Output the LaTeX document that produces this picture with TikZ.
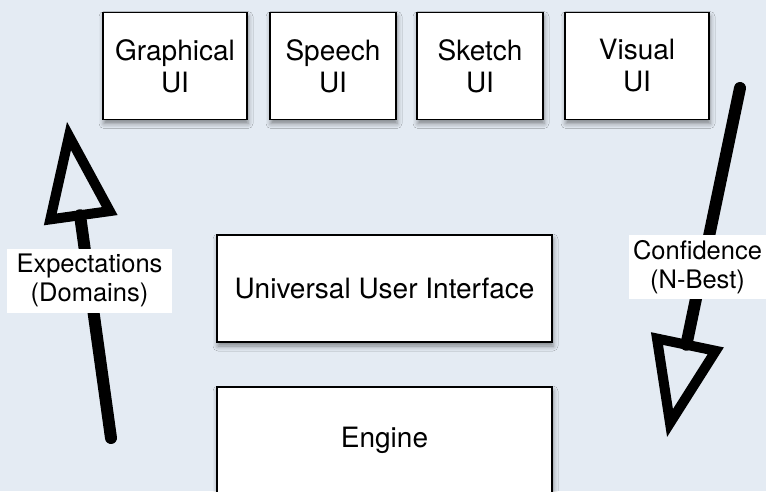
\documentclass[tikz,border=0pt]{standalone}
\usepackage{fontspec}
\setmainfont{TeX Gyre Heros}
\usetikzlibrary{calc,shadows.blur}

\definecolor{paper}{RGB}{228,235,243}

\begin{document}
\begin{tikzpicture}[x=1pt,y=-1pt,
  uibox/.style={draw=black, line width=1.6pt, fill=white, align=center,
    inner sep=0pt, font=\fontsize{28}{32}\selectfont, minimum height=107pt,
    blur shadow={shadow xshift=1pt, shadow yshift=-4pt,
      shadow blur radius=5pt, shadow opacity=45}},
  tag/.style={fill=white, align=center, inner sep=0pt,
    font=\fontsize{25.5}{29}\selectfont, minimum height=64pt},
  shaft/.style={line width=12pt, line cap=round},
  head/.style={line width=10pt, line join=miter}]

% canvas and background
\fill[paper] (0,0) rectangle (766,491);
\useasboundingbox (0,0) rectangle (766,491);

% modality front ends
\node[uibox, minimum width=144pt] (gui) at (175,66) {Graphical\\UI};
\node[uibox, minimum width=126pt] (sui) at (333,66) {Speech\\UI};
\node[uibox, minimum width=126pt] (kui) at (480,66) {Sketch\\UI};
\node[uibox, minimum width=144pt] (vui) at (637,66) {Visual\\UI};

% core layers
\node[uibox, minimum width=335pt] (uui) at (384.5,288.5) {Universal User Interface};
\node[uibox, minimum width=335pt] (eng) at (384.5,440.5) {Engine};

% upward arrow: expectations
\coordinate (upstart) at (111,438);
\coordinate (uptip) at (69,136);
\coordinate (upbase) at ($(uptip)!80pt!(upstart)$);
\draw[shaft] (upstart) -- (upbase);
\draw[head] (uptip) -- ($(upbase)!30pt!90:(uptip)$)
  -- ($(upbase)!30pt!-90:(uptip)$) -- cycle;

% downward arrow: confidence
\coordinate (downstart) at (740,88);
\coordinate (downtip) at (670,423);
\coordinate (downbase) at ($(downtip)!80pt!(downstart)$);
\draw[shaft] (downstart) -- (downbase);
\draw[head] (downtip) -- ($(downbase)!30pt!90:(downtip)$)
  -- ($(downbase)!30pt!-90:(downtip)$) -- cycle;

% arrow labels
\node[tag, minimum width=165pt] (expect) at (89.5,280.5) {Expectations\\(Domains)};
\node[tag, minimum width=138pt] (conf) at (697.5,267) {Confidence\\(N-Best)};
\end{tikzpicture}
\end{document}
